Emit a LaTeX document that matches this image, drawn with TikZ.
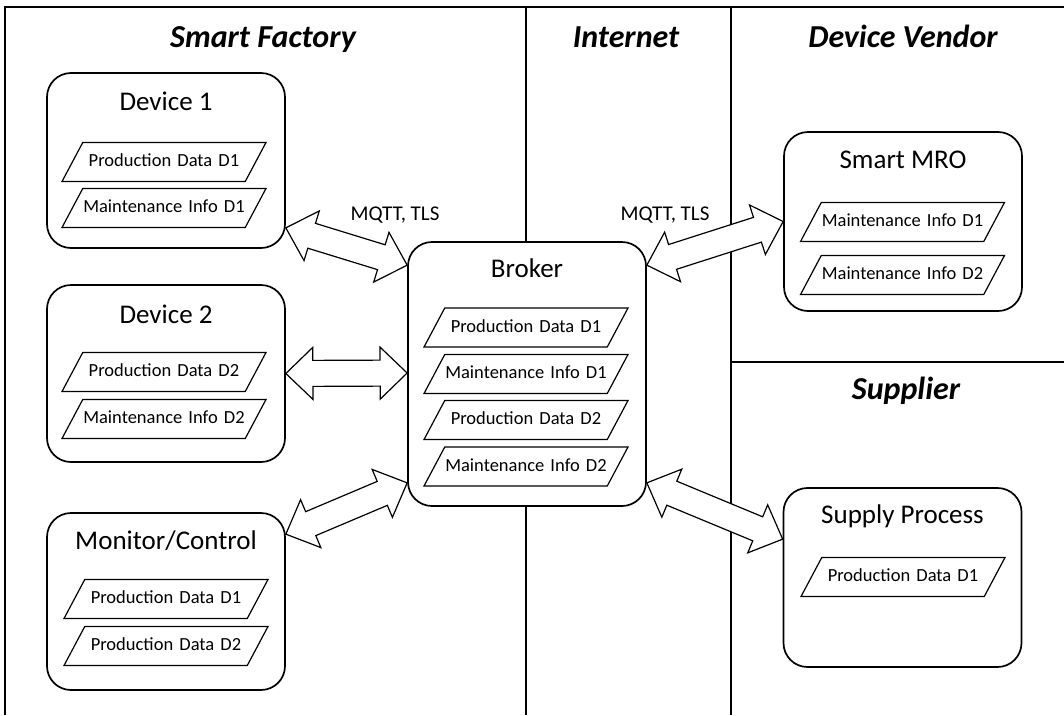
\documentclass[tikz,border=0pt]{standalone}
\usepackage{fontspec}
\setmainfont{Carlito}
\usetikzlibrary{shapes.geometric,calc,positioning}

% wide two-headed block arrow from #1 to #2
\newcommand{\linkarrow}[2]{%
  \draw[link] (#1)
    -- ($(#1)!27pt!(#2)!26pt!90:(#2)$) -- ($(#1)!27pt!(#2)!13pt!90:(#2)$)
    -- ($(#2)!27pt!(#1)!13pt!-90:(#1)$) -- ($(#2)!27pt!(#1)!26pt!-90:(#1)$)
    -- (#2)
    -- ($(#2)!27pt!(#1)!26pt!90:(#1)$) -- ($(#2)!27pt!(#1)!13pt!90:(#1)$)
    -- ($(#1)!27pt!(#2)!13pt!-90:(#2)$) -- ($(#1)!27pt!(#2)!26pt!-90:(#2)$)
    -- cycle;}

\begin{document}
\begin{tikzpicture}[x=1pt, y=1pt,
  zone/.style={line width=1.7pt},
  zonetitle/.style={font=\fontsize{32}{36}\selectfont\bfseries\itshape, anchor=base},
  unit/.style={draw, line width=1.7pt, rounded corners=24pt, fill=white,
    minimum width=238pt, inner sep=0pt},
  unittitle/.style={font=\fontsize{27}{32}\selectfont, anchor=base},
  datum/.style={trapezium, trapezium left angle=62, trapezium right angle=118,
    draw, line width=1.2pt, fill=white, text width=162pt, align=center,
    text height=13pt, text depth=4pt, inner xsep=0.25pt, inner ysep=11pt,
    font=\fontsize{18.5}{22}\selectfont},
  link/.style={draw, fill=white, line width=1.2pt, line join=miter},
  proto/.style={font=\fontsize{21}{25}\selectfont, anchor=base}
]
  \useasboundingbox (0,0) rectangle (1064,-715);

  % zone borders
  \draw[zone] (5,-715) -- (5,-7) -- (1064,-7);
  \draw[zone] (526,-7) -- (526,-715);
  \draw[zone] (731,-7) -- (731,-715);
  \draw[zone] (731,-362) -- (1064,-362);

  \node[zonetitle] (zfac) at (263,-47) {Smart Factory};
  \node[zonetitle] (znet) at (626,-47) {Internet};
  \node[zonetitle] (zven) at (903,-47) {Device Vendor};
  \node[zonetitle] (zsup) at (906,-399) {Supplier};

  % factory side
  \node[unit, minimum height=175pt] (dev1) at (166,-160.5) {};
  \node[unittitle] (dev1t) at (166,-110) {Device 1};
  \node[datum] (dev1p) at (164,-162) {Production Data D1};
  \node[datum] (dev1m) at (164,-208) {Maintenance Info D1};

  \node[unit, minimum height=177pt] (dev2) at (166,-373.5) {};
  \node[unittitle] (dev2t) at (166,-323) {Device 2};
  \node[datum] (dev2p) at (164,-372) {Production Data D2};
  \node[datum] (dev2m) at (164,-419) {Maintenance Info D2};

  \node[unit, minimum height=177pt] (mon) at (166,-601.5) {};
  \node[unittitle] (mont) at (166,-549) {Monitor/Control};
  \node[datum] (monp1) at (166,-599) {Production Data D1};
  \node[datum] (monp2) at (166,-646) {Production Data D2};

  % broker
  \node[unit, minimum height=264pt] (brk) at (527,-374) {};
  \node[unittitle] (brkt) at (527,-277) {Broker};
  \node[datum] (brkp1) at (526,-327.5) {Production Data D1};
  \node[datum] (brkm1) at (526,-374) {Maintenance Info D1};
  \node[datum] (brkp2) at (526,-420) {Production Data D2};
  \node[datum] (brkm2) at (526,-466.5) {Maintenance Info D2};

  % vendor and supplier
  \node[unit, minimum height=179pt] (mro) at (903,-221.5) {};
  \node[unittitle] (mrot) at (903,-168) {Smart MRO};
  \node[datum] (mrom1) at (902.5,-222) {Maintenance Info D1};
  \node[datum] (mrom2) at (902.5,-275) {Maintenance Info D2};

  \node[unit, minimum height=179pt] (sup) at (902.5,-577.5) {};
  \node[unittitle] (supt) at (902.5,-523) {Supply Process};
  \node[datum] (supp) at (903,-577) {Production Data D1};

  % arrow ends on the box borders
  \coordinate (d1e) at ($(dev1.south east)+(0,21)$);
  \coordinate (d2e) at (dev2.east);
  \coordinate (mne) at ($(mon.north east)+(0,-22)$);
  \coordinate (bnw) at ($(brk.north west)+(0,-24)$);
  \coordinate (bw) at ($(brk.west)+(0,1)$);
  \coordinate (bsw) at ($(brk.south west)+(0,24)$);
  \coordinate (bne) at ($(brk.north east)+(0,-24)$);
  \coordinate (bse) at ($(brk.south east)+(0,24)$);
  \coordinate (mrw) at (mro.west);
  \coordinate (spw) at ($(sup.north west)+(0,-52)$);

  \linkarrow{d1e}{bnw}
  \linkarrow{d2e}{bw}
  \linkarrow{mne}{bsw}
  \linkarrow{bne}{mrw}
  \linkarrow{bse}{spw}

  \node[proto] (mq1) at (395,-220) {MQTT, TLS};
  \node[proto] (mq2) at (665,-220) {MQTT, TLS};
\end{tikzpicture}
\end{document}
